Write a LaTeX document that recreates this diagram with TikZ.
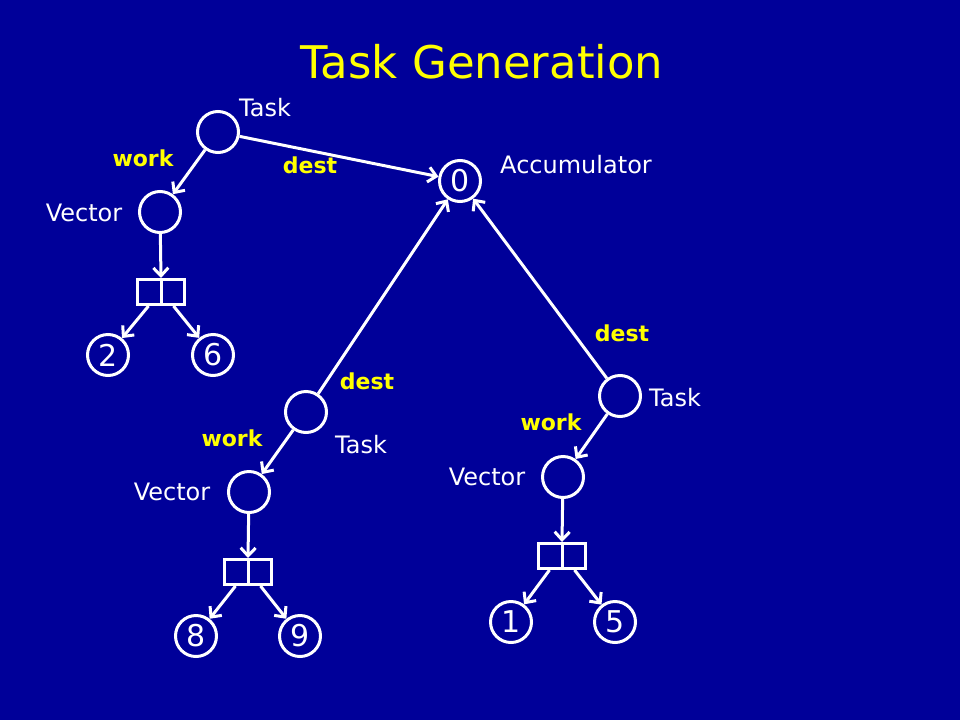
\documentclass[tikz,border=0pt]{standalone}
\usepackage{fontspec}
\setmainfont{DejaVu Sans}
\usetikzlibrary{arrows.meta,shapes.multipart}
\definecolor{bg}{RGB}{0,0,153}
\definecolor{yel}{RGB}{255,255,0}
\tikzset{
  circ/.style={circle,draw=white,line width=3pt,minimum size=41pt,inner sep=0pt,text=white,font=\fontsize{30}{32}\selectfont},
  vbox/.style={rectangle split,rectangle split horizontal,rectangle split parts=2,draw=white,line width=3pt,
     minimum height=25pt,inner sep=0pt,text width=22pt,rectangle split part align=center},
  arr/.style={draw=white,line width=3pt,-{Straight Barb[length=8pt,width=15pt,line width=3pt]}},
  wlab/.style={text=white,font=\fontsize{24}{26}\selectfont,inner sep=0pt},
  ylab/.style={text=yel,font=\bfseries\fontsize{22}{24}\selectfont,inner sep=0pt},
}
\begin{document}
\begin{tikzpicture}[x=1pt,y=-1pt]
\fill[bg] (0,0) rectangle (960,720);
\useasboundingbox (0,0) rectangle (960,720);
\node[text=yel,font=\fontsize{45}{48}\selectfont] (title) at (482,62) {Task Generation};
% accumulator
\node[circ] (acc) at (460,181) {0};
\node[wlab] (accl) at (576,165) {Accumulator};
% top-left group
\node[circ] (t1) at (218,132) {};
\node[circ] (v1) at (160,212) {};
\node[vbox] (b1) at (161,292) {\nodepart{one}\nodepart{two}};
\node[circ] (n2) at (108,355) {2};
\node[circ] (n6) at (213,355) {6};
\node[wlab] (t1l) at (265,108) {Task};
\node[ylab] (w1) at (143,158) {work};
\node[ylab] (d1) at (310,165) {dest};
\node[wlab] (v1l) at (84,213) {Vector};
\draw[arr] (t1) -- (acc);
\draw[arr] (t1) -- (v1);
\draw[arr] (v1) -- (b1.north);
\draw[arr] (b1.one south) -- (n2);
\draw[arr] (b1.two south) -- (n6);
% middle group
\node[circ] (t2) at (306,412) {};
\node[circ] (v2) at (249,492) {};
\node[vbox] (b2) at (248,572) {\nodepart{one}\nodepart{two}};
\node[circ] (n8) at (196,636) {8};
\node[circ] (n9) at (300,636) {9};
\node[ylab] (d2) at (367,381) {dest};
\node[ylab] (w2) at (232,438) {work};
\node[wlab] (t2l) at (361,445) {Task};
\node[wlab] (v2l) at (172,492) {Vector};
\draw[arr] (t2) -- (acc);
\draw[arr] (t2) -- (v2);
\draw[arr] (v2) -- (b2.north);
\draw[arr] (b2.one south) -- (n8);
\draw[arr] (b2.two south) -- (n9);
% right group
\node[circ] (t3) at (620,396) {};
\node[circ] (v3) at (563,477) {};
\node[vbox] (b3) at (562,556) {\nodepart{one}\nodepart{two}};
\node[circ] (n1) at (511,622) {1};
\node[circ] (n5) at (615,622) {5};
\node[ylab] (d3) at (622,333) {dest};
\node[wlab] (t3l) at (675,398) {Task};
\node[ylab] (w3) at (551,422) {work};
\node[wlab] (v3l) at (487,477) {Vector};
\draw[arr] (t3) -- (acc);
\draw[arr] (t3) -- (v3);
\draw[arr] (v3) -- (b3.north);
\draw[arr] (b3.one south) -- (n1);
\draw[arr] (b3.two south) -- (n5);
\end{tikzpicture}
\end{document}
